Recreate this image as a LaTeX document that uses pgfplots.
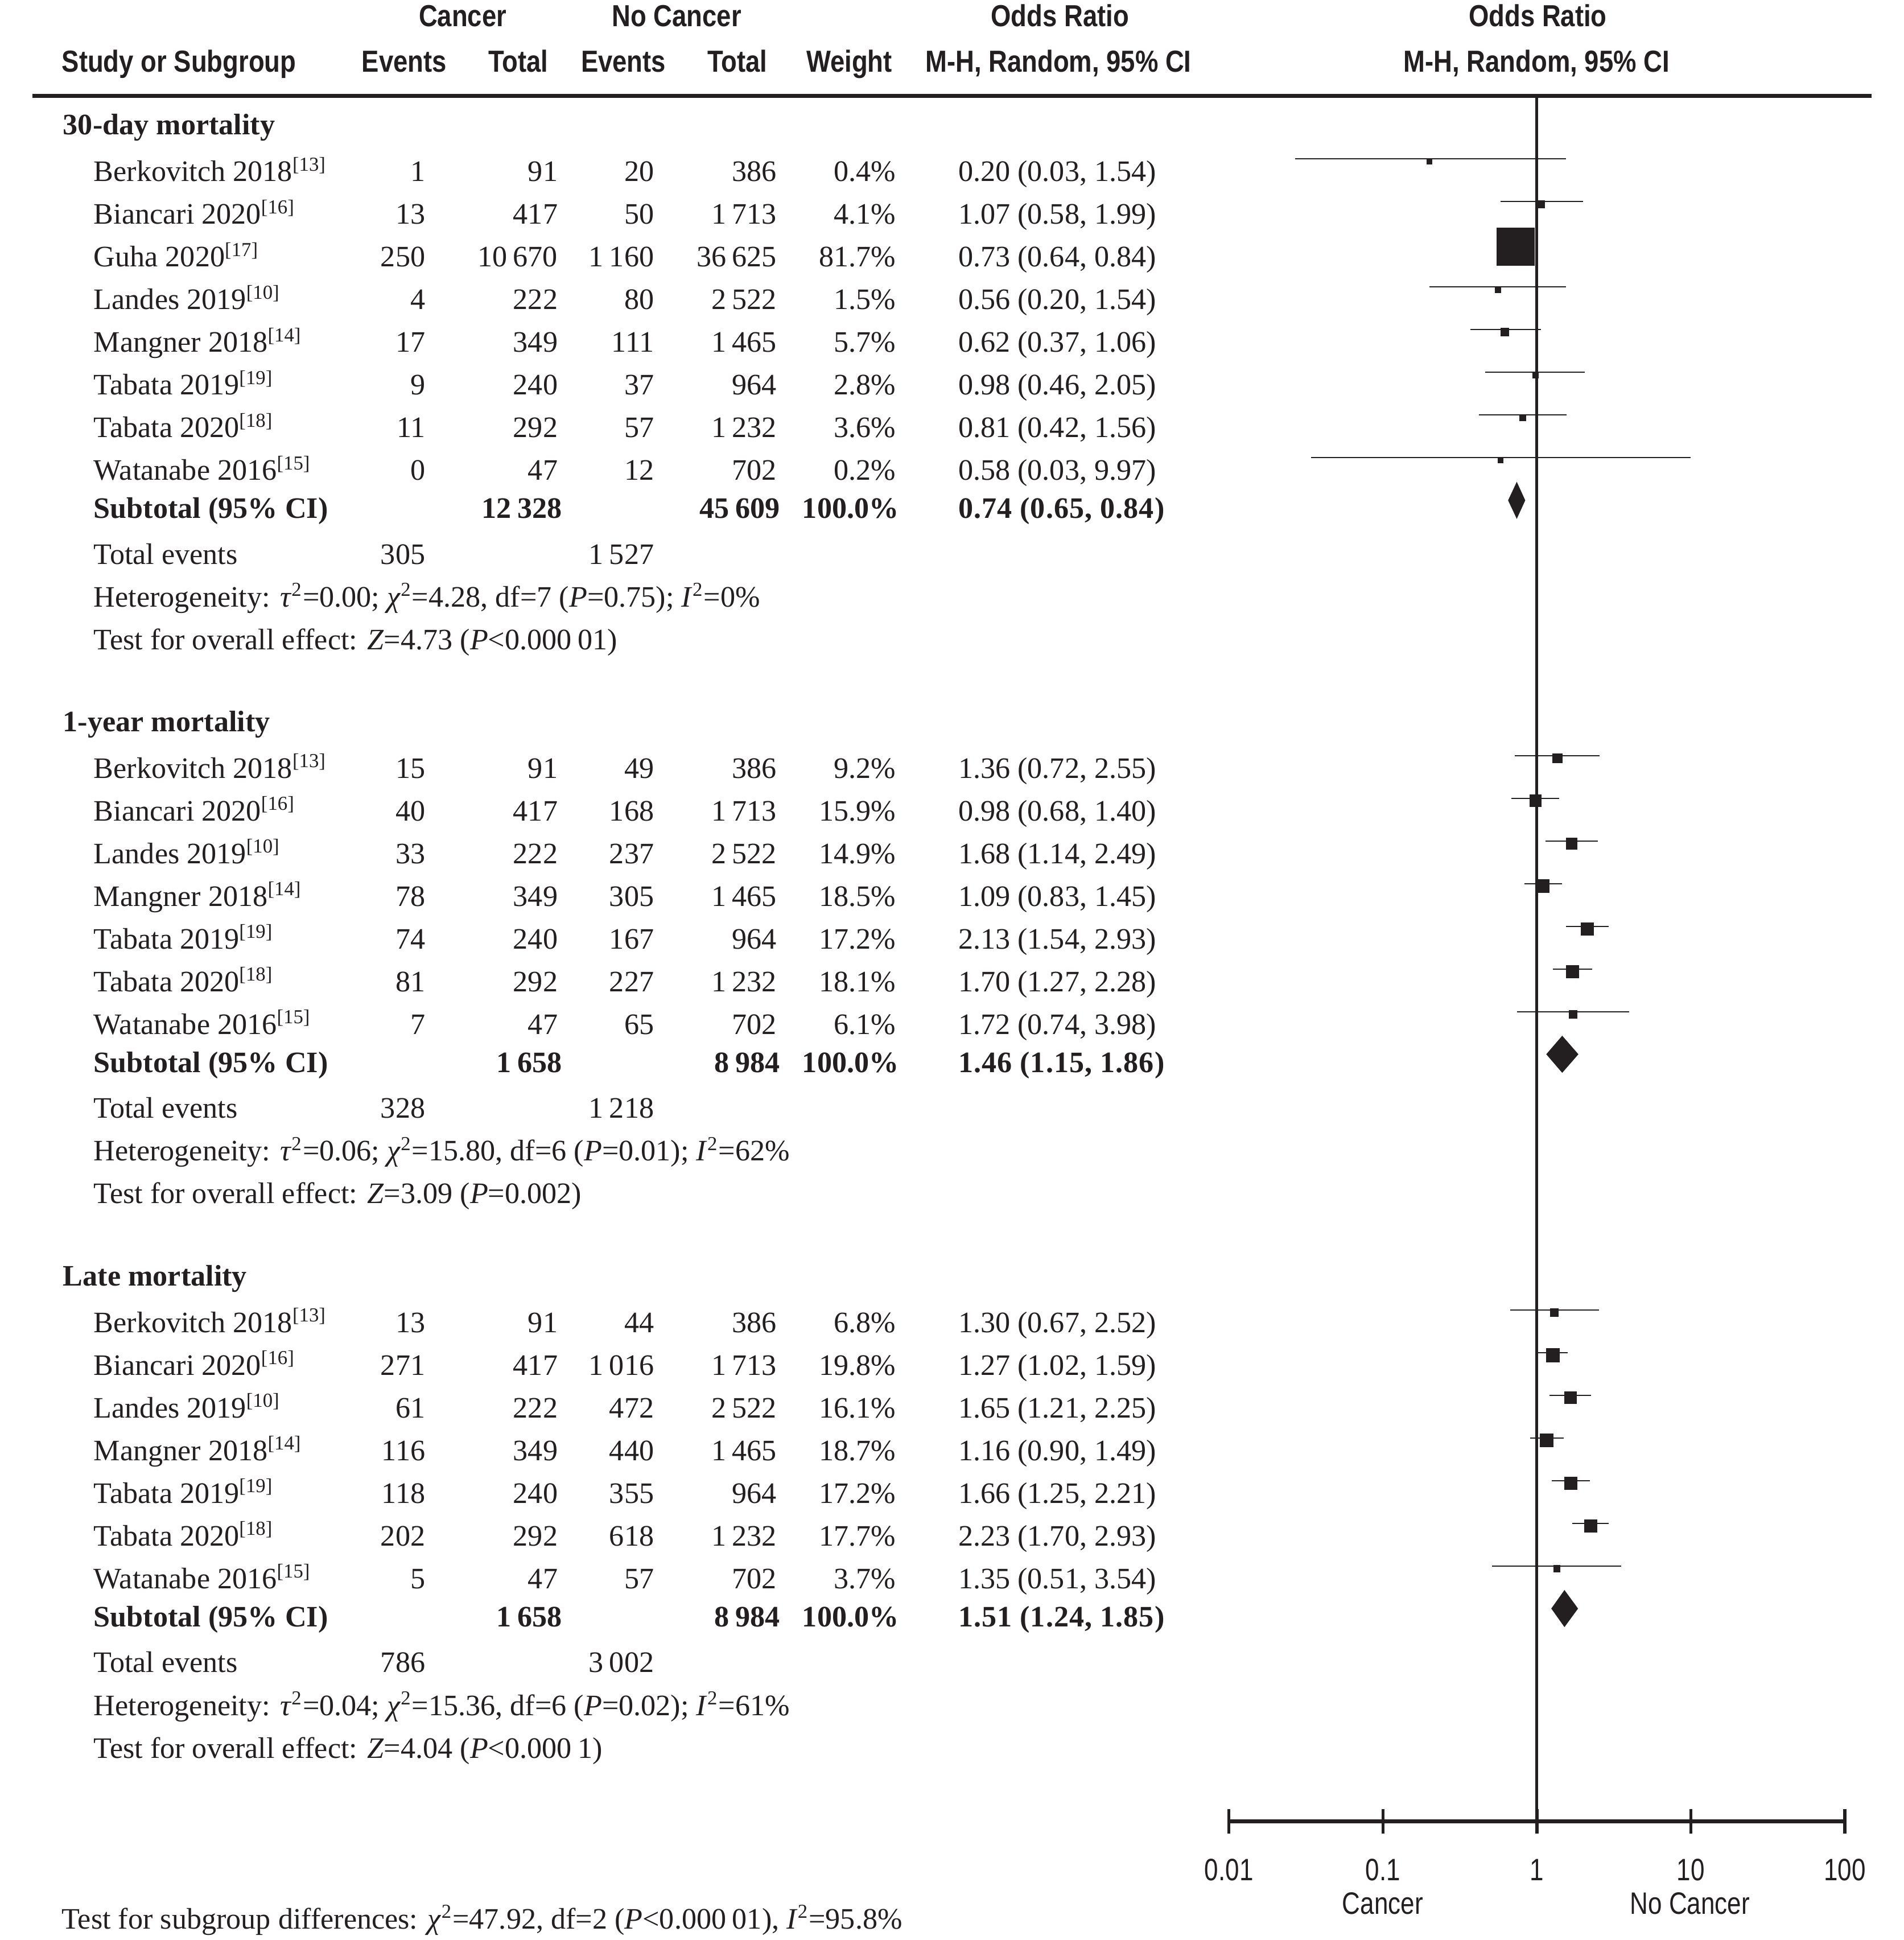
\documentclass[border=0pt]{standalone}
\usepackage{fontspec}
\setmainfont{Liberation Serif}
\newfontfamily\hdrfont{Liberation Sans}[FakeStretch=0.85]
\newfontfamily\axfont{Liberation Sans}[FakeStretch=0.81]
\usepackage{pgfplots}
\usepackage{pgfplotstable}
\pgfplotsset{compat=1.18}
\definecolor{ink}{HTML}{231F20}

% y = row position (px from top), or/lo/hi = odds ratio and CI, side = square size (px)
\pgfplotstableread{
y      or    lo     hi    side
128.4  0.20  0.027  1.54  4.0
162.9  1.07  0.58   1.99  5.3
197.4  0.73  0.64   0.84  30
231.9  0.56  0.20   1.54  4.3
266.4  0.62  0.37   1.06  6.1
300.9  0.98  0.46   2.05  4.3
335.4  0.81  0.42   1.56  5.0
369.9  0.58  0.034  9.97  4.0
}\thirty
\pgfplotstableread{
y      or    lo    hi    side
610.6  1.36  0.72  2.55  7.1
645.1  0.98  0.68  1.40  9.2
679.6  1.68  1.14  2.49  8.7
714.1  1.09  0.83  1.45  10.3
748.6  2.13  1.54  2.93  9.7
783.1  1.70  1.27  2.28  9.9
817.6  1.72  0.74  3.98  6.2
}\oneyear
\pgfplotstableread{
y       or    lo    hi    side
1058.6  1.30  0.67  2.52  6.2
1093.1  1.27  1.02  1.59  10.4
1127.6  1.65  1.21  2.25  9.4
1162.1  1.16  0.90  1.49  10.2
1196.6  1.66  1.25  2.21  9.5
1231.1  2.23  1.70  2.93  9.8
1265.6  1.35  0.51  3.54  4.9
}\late

\newcommand\hfont{\fontsize{12.3}{14}\selectfont\hdrfont\bfseries}
\newcommand\afont{\fontsize{12.5}{14}\selectfont\axfont}
\newcommand\ts{\hspace{0.2em}}
% one table row: baseline, name, events, total, events, total, weight, CI
\newcommand\srow[8]{%
  \node[t, anchor=base west] at (75.8,#1) {#2};
  \node[t, anchor=base east] at (343.7,#1) {#3};
  \node[t, anchor=base east] at (450.8,#1) {#4};
  \node[t, anchor=base east] at (528.6,#1) {#5};
  \node[t, anchor=base east] at (627.8,#1) {#6};
  \node[t, anchor=base east] at (723.9,#1) {#7};
  \node[t, anchor=base west] at (774.6,#1) {#8};}
% subtotal row: baseline, total, total, CI
\newcommand\subrow[4]{%
  \node[t, anchor=base west] at (75.8,#1) {\bfseries Subtotal (95\% CI)};
  \node[t, anchor=base east] at (454.3,#1) {\bfseries #2};
  \node[t, anchor=base east] at (630.4,#1) {\bfseries #3};
  \node[t, anchor=base east] at (726.5,#1) {\bfseries 100.0\%};
  \node[t, anchor=base west] at (774.6,#1) {\bfseries\addfontfeature{LetterSpace=2} #4};}
\newcommand\note[2]{\node[t, anchor=base west] at (75.8,#1) {#2};}

\pgfplotsset{
  ci/.style={only marks, mark=*, mark size=0pt, mark options={draw=none, fill=none},
    error bars/.cd, x dir=both, x explicit, error mark=none,
    error bar style={draw=ink, solid, line width=0.46pt}},
  sq/.style={scatter, only marks, mark=square*,
    scatter/use mapped color={draw=ink, fill=ink},
    visualization depends on={\thisrow{side}/4 \as \msz},
    scatter/@pre marker code/.append style={/tikz/mark size=\msz, /tikz/line width=0.1pt}},
}

\begin{document}
\fontsize{12}{14}\selectfont
\begin{tikzpicture}[x=0.5pt, y=-0.5pt, t/.style={inner sep=0pt, outer sep=0pt, text=ink}]
\path[use as bounding box] (0,0) rectangle (1539,1568);

\begin{axis}[
  at={(496.7pt,-38.75pt)}, anchor=north west,
  scale only axis, width=248.9pt, height=697.25pt,
  xmode=log, xmin=0.01, xmax=100, ymin=-1472, ymax=-77.5,
  axis x line=bottom, axis y line=none,
  x axis line style={-, line width=1.5pt, ink},
  xtick={0.01,0.1,1,10,100}, xticklabels={0.01,0.1,1,10,100},
  xminorticks=false, tick align=center, major tick length=9.8pt,
  tick style={line width=1.25pt, ink},
  xticklabel style={font=\afont, text=ink, anchor=base, yshift=-19pt},
  clip=false,
]
\addplot[ink, line width=1.15pt] coordinates {(1,-77.5) (1,-1472)};

\addplot[ci] table[x=or, y expr=-\thisrow{y},
  x error plus expr=\thisrow{hi}-\thisrow{or},
  x error minus expr=\thisrow{or}-\thisrow{lo}] {\thirty};
\addplot[ci] table[x=or, y expr=-\thisrow{y},
  x error plus expr=\thisrow{hi}-\thisrow{or},
  x error minus expr=\thisrow{or}-\thisrow{lo}] {\oneyear};
\addplot[ci] table[x=or, y expr=-\thisrow{y},
  x error plus expr=\thisrow{hi}-\thisrow{or},
  x error minus expr=\thisrow{or}-\thisrow{lo}] {\late};

\addplot[sq] table[x=or, y expr=-\thisrow{y}-2.2] {\thirty};
\addplot[sq] table[x=or, y expr=-\thisrow{y}-2.2] {\oneyear};
\addplot[sq] table[x=or, y expr=-\thisrow{y}-2.2] {\late};

% subtotal diamonds
\addplot[fill=ink, draw=none] coordinates {(0.65,-404.4) (0.74,-389.4) (0.84,-404.4) (0.74,-419.4) (0.65,-404.4)};
\addplot[fill=ink, draw=none] coordinates {(1.15,-852.1) (1.46,-837.1) (1.86,-852.1) (1.46,-867.1) (1.15,-852.1)};
\addplot[fill=ink, draw=none] coordinates {(1.24,-1300.1) (1.51,-1285.1) (1.85,-1300.1) (1.51,-1315.1) (1.24,-1300.1)};
\end{axis}

% header
\node[t, anchor=base] at (374,21.5) {\hfont Cancer};
\node[t, anchor=base] at (547,21.5) {\hfont No Cancer};
\node[t, anchor=base] at (856.8,21.5) {\hfont Odds Ratio};
\node[t, anchor=base] at (1243,21.5) {\hfont Odds Ratio};
\node[t, anchor=base west] at (50,58.3) {\hfont Study or Subgroup};
\node[t, anchor=base] at (326.7,58.3) {\hfont Events};
\node[t, anchor=base] at (419,58.3) {\hfont Total};
\node[t, anchor=base] at (503.9,58.3) {\hfont Events};
\node[t, anchor=base] at (596,58.3) {\hfont Total};
\node[t, anchor=base] at (686.5,58.3) {\hfont Weight};
\node[t, anchor=base] at (855.5,58.3) {\hfont M-H, Random, 95\% CI};
\node[t, anchor=base] at (1242,58.3) {\hfont M-H, Random, 95\% CI};
\draw[ink, line width=1.5pt] (26,77.5) -- (1513,77.5);

% 30-day mortality
\node[t, anchor=base west] at (51,108.9) {\bfseries 30-day mortality};
\srow{146.7}{Berkovitch 2018\textsuperscript{[13]}}{1}{91}{20}{386}{0.4\%}{0.20 (0.03, 1.54)}
\srow{181.2}{Biancari 2020\textsuperscript{[16]}}{13}{417}{50}{1\ts 713}{4.1\%}{1.07 (0.58, 1.99)}
\srow{215.7}{Guha 2020\textsuperscript{[17]}}{250}{10\ts 670}{1\ts 160}{36\ts 625}{81.7\%}{0.73 (0.64, 0.84)}
\srow{250.2}{Landes 2019\textsuperscript{[10]}}{4}{222}{80}{2\ts 522}{1.5\%}{0.56 (0.20, 1.54)}
\srow{284.7}{Mangner 2018\textsuperscript{[14]}}{17}{349}{111}{1\ts 465}{5.7\%}{0.62 (0.37, 1.06)}
\srow{319.2}{Tabata 2019\textsuperscript{[19]}}{9}{240}{37}{964}{2.8\%}{0.98 (0.46, 2.05)}
\srow{353.7}{Tabata 2020\textsuperscript{[18]}}{11}{292}{57}{1\ts 232}{3.6\%}{0.81 (0.42, 1.56)}
\srow{388.2}{Watanabe 2016\textsuperscript{[15]}}{0}{47}{12}{702}{0.2\%}{0.58 (0.03, 9.97)}
\subrow{418.9}{12\ts 328}{45\ts 609}{0.74 (0.65, 0.84)}
\srow{456.1}{Total events}{305}{}{1\ts 527}{}{}{}
\note{490.6}{Heterogeneity: \textit{τ}\textsuperscript{2}=0.00; \textit{χ}\textsuperscript{2}=4.28, df=7 (\textit{P}=0.75); \textit{I}\textsuperscript{2}=0\%}
\note{525.1}{Test for overall effect: \textit{Z}=4.73 (\textit{P}<0.000\ts 01)}

% 1-year mortality
\node[t, anchor=base west] at (51,591.1) {\bfseries 1-year mortality};
\srow{628.9}{Berkovitch 2018\textsuperscript{[13]}}{15}{91}{49}{386}{9.2\%}{1.36 (0.72, 2.55)}
\srow{663.4}{Biancari 2020\textsuperscript{[16]}}{40}{417}{168}{1\ts 713}{15.9\%}{0.98 (0.68, 1.40)}
\srow{697.9}{Landes 2019\textsuperscript{[10]}}{33}{222}{237}{2\ts 522}{14.9\%}{1.68 (1.14, 2.49)}
\srow{732.4}{Mangner 2018\textsuperscript{[14]}}{78}{349}{305}{1\ts 465}{18.5\%}{1.09 (0.83, 1.45)}
\srow{766.9}{Tabata 2019\textsuperscript{[19]}}{74}{240}{167}{964}{17.2\%}{2.13 (1.54, 2.93)}
\srow{801.4}{Tabata 2020\textsuperscript{[18]}}{81}{292}{227}{1\ts 232}{18.1\%}{1.70 (1.27, 2.28)}
\srow{835.9}{Watanabe 2016\textsuperscript{[15]}}{7}{47}{65}{702}{6.1\%}{1.72 (0.74, 3.98)}
\subrow{866.6}{1\ts 658}{8\ts 984}{1.46 (1.15, 1.86)}
\srow{903.8}{Total events}{328}{}{1\ts 218}{}{}{}
\note{938.3}{Heterogeneity: \textit{τ}\textsuperscript{2}=0.06; \textit{χ}\textsuperscript{2}=15.80, df=6 (\textit{P}=0.01); \textit{I}\textsuperscript{2}=62\%}
\note{972.8}{Test for overall effect: \textit{Z}=3.09 (\textit{P}=0.002)}

% late mortality
\node[t, anchor=base west] at (51,1039.1) {\bfseries Late mortality};
\srow{1076.9}{Berkovitch 2018\textsuperscript{[13]}}{13}{91}{44}{386}{6.8\%}{1.30 (0.67, 2.52)}
\srow{1111.4}{Biancari 2020\textsuperscript{[16]}}{271}{417}{1\ts 016}{1\ts 713}{19.8\%}{1.27 (1.02, 1.59)}
\srow{1145.9}{Landes 2019\textsuperscript{[10]}}{61}{222}{472}{2\ts 522}{16.1\%}{1.65 (1.21, 2.25)}
\srow{1180.4}{Mangner 2018\textsuperscript{[14]}}{116}{349}{440}{1\ts 465}{18.7\%}{1.16 (0.90, 1.49)}
\srow{1214.9}{Tabata 2019\textsuperscript{[19]}}{118}{240}{355}{964}{17.2\%}{1.66 (1.25, 2.21)}
\srow{1249.4}{Tabata 2020\textsuperscript{[18]}}{202}{292}{618}{1\ts 232}{17.7\%}{2.23 (1.70, 2.93)}
\srow{1283.9}{Watanabe 2016\textsuperscript{[15]}}{5}{47}{57}{702}{3.7\%}{1.35 (0.51, 3.54)}
\subrow{1314.6}{1\ts 658}{8\ts 984}{1.51 (1.24, 1.85)}
\srow{1351.8}{Total events}{786}{}{3\ts 002}{}{}{}
\note{1386.3}{Heterogeneity: \textit{τ}\textsuperscript{2}=0.04; \textit{χ}\textsuperscript{2}=15.36, df=6 (\textit{P}=0.02); \textit{I}\textsuperscript{2}=61\%}
\note{1420.8}{Test for overall effect: \textit{Z}=4.04 (\textit{P}<0.000\ts 1)}

% axis side labels and footer
\node[t, anchor=base] at (1117.6,1547) {\afont Cancer};
\node[t, anchor=base] at (1366,1547) {\afont No Cancer};
\node[t, anchor=base west] at (50,1559) {Test for subgroup differences: \textit{χ}\textsuperscript{2}=47.92, df=2 (\textit{P}<0.000\ts 01), \textit{I}\textsuperscript{2}=95.8\%};
\end{tikzpicture}
\end{document}
